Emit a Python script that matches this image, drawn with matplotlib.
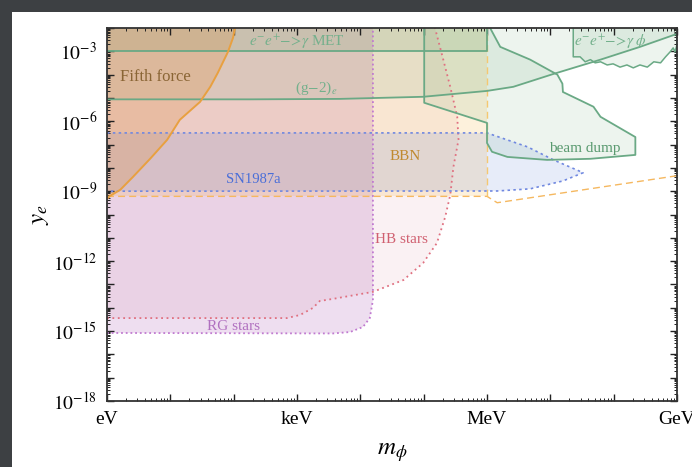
import numpy as np
import matplotlib
matplotlib.use("Agg")
import matplotlib.pyplot as plt
from matplotlib.ticker import LogLocator, FuncFormatter, NullFormatter
from matplotlib.patches import Rectangle

plt.rcParams['font.family'] = ['Liberation Serif', 'DejaVu Serif']
plt.rcParams['mathtext.fontset'] = 'stix'

# axis range: mass in eV, coupling y_e
m_lim = [1.0, 1e9]
y_lim = [1e-18, 1e-2]

x_tick_vals = [1.0, 1e3, 1e6, 1e9]
x_tick_names = ['eV', 'keV', 'MeV', 'GeV']
y_tick_exps = [-18, -15, -12, -9, -6, -3]

# Fifth force boundary (solid orange)
fifth_m = [1.0, 1.12, 1.62, 2.57, 4.79, 8.91, 14.1, 29.5, 42.7, 56.2, 81.3, 97.7, 105.0]
fifth_y = [4.7e-10, 6.3e-10, 1.15e-9, 4.1e-9, 2.45e-8, 1.6e-7, 1.15e-6, 6.8e-6,
           3.0e-5, 1.2e-4, 9.5e-4, 3.8e-3, 1e-2]

# (g-2)_e
g2_m = [1.0, 182.0, 4.8e3, 9.8e4, 1.0e6, 2.6e6, 1.12e7, 6.2e7, 2.6e8, 1e9]
g2_y = [8.7e-6, 8.7e-6, 9.1e-6, 1.12e-5, 2.0e-5, 3.0e-5, 1.07e-4, 4.4e-4, 1.55e-3, 5.6e-3]

# e- e+ -> gamma MET
met_m = [1.0, 1e6, 1e6]
met_y = [1e-3, 1e-3, 1e-2]

# SN1987a (closed outline)
sn_m = [1.0, 1e6, 4.4e6, 1.12e7, 3.3e7, 1.58e7, 4.8e6, 1.45e6, 1.0]
sn_y = [3.16e-7, 3.16e-7, 7.9e-8, 2.2e-8, 6.2e-9, 2.75e-9, 1.26e-9, 1.02e-9, 1.0e-9]

# BBN
bbn_m = [1.0, 1e6, 1.45e6, 1e9]
bbn_y = [6.0e-10, 6.0e-10, 3.2e-10, 4.6e-9]
bbn_edge_m = [1e6, 1e6]
bbn_edge_y = [6.0e-10, 1e-2]

# HB stars
hb_m = [1.0, 692.0, 1.12e3, 1.78e3, 2.29e3, 3.7e3, 1.58e4, 4.8e4, 9.8e4, 1.62e5,
        2.19e5, 2.63e5, 2.95e5, 3.55e5, 3.39e5, 2.63e5, 2.04e5, 1.51e5]
hb_y = [3.6e-15, 3.6e-15, 4.9e-15, 9.8e-15, 1.95e-14, 2.4e-14, 4.8e-14, 1.55e-13,
        8.3e-13, 6.0e-12, 7.9e-11, 6.9e-10, 1.1e-8, 1.6e-7, 1.55e-6, 3.0e-5, 4.4e-4, 1e-2]

# RG stars
rg_m = [1.0, 3.7e3, 6.9e3, 1.1e4, 1.41e4, 1.58e4, 1.58e4]
rg_y = [8.3e-16, 7.9e-16, 9.1e-16, 1.5e-15, 3.6e-15, 2.1e-14, 1e-2]

# beam dump
bd_m = [1.02e5, 1.02e5, 1.0e6, 1.0e6, 1.2e6, 2.1e6, 8.9e6, 4.3e7, 2.2e8, 2.2e8,
        6.2e7, 4.8e7, 1.58e7, 1.55e7, 1.29e7, 4.8e6, 1.62e6, 1.12e6]
bd_y = [1e-2, 6.2e-6, 8.5e-7, 1.17e-7, 4.9e-8, 2.95e-8, 2.2e-8, 2.45e-8, 3.6e-8,
        2.1e-7, 1.55e-6, 4.2e-6, 1.8e-5, 4.1e-5, 1e-4, 4.4e-4, 1.55e-3, 1e-2]

# e- e+ -> gamma phi
gp_m = [2.3e7, 2.3e7, 2.95e7, 3.55e7, 4.3e7, 5.1e7, 6.2e7, 7.9e7, 9.8e7, 1.26e8, 1.62e8,
        2.04e8, 2.6e8, 3.4e8, 4.3e8, 5.5e8, 6.6e8, 7.8e8, 8.7e8, 9.3e8, 1e9, 1e9]
gp_y = [1e-2, 5.8e-4, 5.8e-4, 3.55e-4, 4.4e-4, 3.2e-4, 3.55e-4, 2.6e-4, 2.9e-4, 2.1e-4,
        2.6e-4, 1.95e-4, 2.6e-4, 2.1e-4, 3.55e-4, 3.2e-4, 5.8e-4, 9.5e-4, 1.4e-3, 9.5e-4,
        1.9e-3, 1e-2]

green = '#6aa985'
green_fill = '#4f9a60'

fig = plt.figure(figsize=(6.92, 4.67), dpi=100, facecolor='#3d4043')
fig.add_artist(Rectangle((12 / 692, 0), 1, 1 - 12 / 467, transform=fig.transFigure,
                         facecolor='white', edgecolor='none', zorder=-5))
ax = fig.add_axes([107 / 692, 66 / 467, 570 / 692, 373 / 467])
ax.set_xscale('log')
ax.set_yscale('log')
ax.set_xlim(m_lim)
ax.set_ylim(y_lim)

top = y_lim[1]
left = m_lim[0]

# fills
ax.fill(rg_m + [left], rg_y + [top], color='#a040a8', alpha=0.17, lw=0)
ax.fill(hb_m + [left], hb_y + [top], color='#c04060', alpha=0.07, lw=0)
ax.fill([left, 1e6, 1e6, left], [bbn_y[0], bbn_y[1], top, top], color='#f8b030', alpha=0.17, lw=0)
ax.fill(sn_m, sn_y, color='#3a64d0', alpha=0.12, lw=0)
ax.fill(g2_m + [m_lim[1], left], g2_y + [top, top], color=green_fill, alpha=0.1, lw=0)
ax.fill(met_m + [left], met_y + [top], color=green_fill, alpha=0.12, lw=0)
ax.fill(bd_m, bd_y, color=green_fill, alpha=0.1, lw=0)
ax.fill(gp_m, gp_y, color=green_fill, alpha=0.1, lw=0)
ax.fill(fifth_m + [left], fifth_y + [top], color='#e0903c', alpha=0.25, lw=0)

# boundaries
ax.plot(rg_m, rg_y, color='#c07ad0', lw=1.3, ls=(0, (1, 1.6)))
ax.plot(hb_m, hb_y, color='#e07080', lw=1.3, ls=(0, (1, 2)))
ax.plot(bbn_m, bbn_y, color='#f5b860', lw=1.0, ls=(0, (5, 3)))
ax.plot(bbn_edge_m, bbn_edge_y, color='#f5c870', lw=1.0, ls=(0, (5, 3)))
ax.plot(sn_m, sn_y, color='#7088e0', lw=1.2, ls=(0, (1.5, 2)))
ax.plot(g2_m, g2_y, color=green, lw=1.3)
ax.plot(met_m, met_y, color=green, lw=1.3)
ax.plot(bd_m, bd_y, color=green, lw=1.3)
ax.plot(gp_m, gp_y, color=green, lw=1.1)
ax.plot(fifth_m, fifth_y, color='#e8a040', lw=1.4)

# labels
ax.text(5.8, 8e-5, 'Fifth force', color='#8a6535', fontsize=12, ha='center', va='center')
ax.text(1e3, 2.6e-3, r'$e^{-}e^{+}\!\!-\!\!>\!\gamma$ MET', color='#74b08c', fontsize=11,
        ha='center', va='center')
ax.text(2.0e3, 2.7e-5, r'(g$-$2)$_e$', color='#74b08c', fontsize=11, ha='center', va='center')
ax.text(205, 3.1e-9, 'SN1987a', color='#4a6ed8', fontsize=10.5, ha='center', va='center')
ax.text(5.1e4, 2.95e-8, 'BBN', color='#c08a30', fontsize=11, ha='center', va='center')
ax.text(4.4e4, 8.1e-12, 'HB stars', color='#d06070', fontsize=11, ha='center', va='center')
ax.text(100, 1.5e-15, 'RG stars', color='#b070c0', fontsize=11, ha='center', va='center')
ax.text(3.5e7, 6.6e-8, 'beam dump', color='#5a9a70', fontsize=11, ha='center', va='center')
ax.text(8.9e7, 2.6e-3, r'$e^{-}e^{+}\!\!-\!\!>\!\gamma\ \phi$', color='#74b08c', fontsize=11,
        ha='center', va='center')

# ticks
ax.xaxis.set_major_locator(LogLocator(base=10, numticks=30))
ax.xaxis.set_minor_locator(LogLocator(base=10, subs=np.arange(2, 10), numticks=30))
ax.yaxis.set_major_locator(LogLocator(base=10, numticks=30))
ax.yaxis.set_minor_locator(LogLocator(base=10, subs=np.arange(2, 10), numticks=30))
x_names = dict(zip(x_tick_vals, x_tick_names))


def xfmt(v, pos):
    for k, s in x_names.items():
        if abs(np.log10(v) - np.log10(k)) < 1e-6:
            return s
    return ''


def yfmt(v, pos):
    e = int(round(np.log10(v)))
    if e in y_tick_exps:
        return r'$10^{%d}$' % e
    return ''


ax.xaxis.set_major_formatter(FuncFormatter(xfmt))
ax.yaxis.set_major_formatter(FuncFormatter(yfmt))
ax.xaxis.set_minor_formatter(NullFormatter())
ax.yaxis.set_minor_formatter(NullFormatter())
ax.tick_params(which='both', direction='in', top=True, right=True, colors='#222222',
               labelcolor='black', labelsize=14)
ax.tick_params(which='major', length=5, width=1.0, pad=7)
ax.tick_params(which='minor', length=2.5, width=0.7)
for s in ax.spines.values():
    s.set_linewidth(1.3)
    s.set_color('#333333')

ax.set_xlabel(r'$m_\phi$', fontsize=18, labelpad=10)
ax.set_ylabel(r'$y_e$', fontsize=18, labelpad=1)

fig.savefig('out.png', dpi=100, facecolor=fig.get_facecolor())
